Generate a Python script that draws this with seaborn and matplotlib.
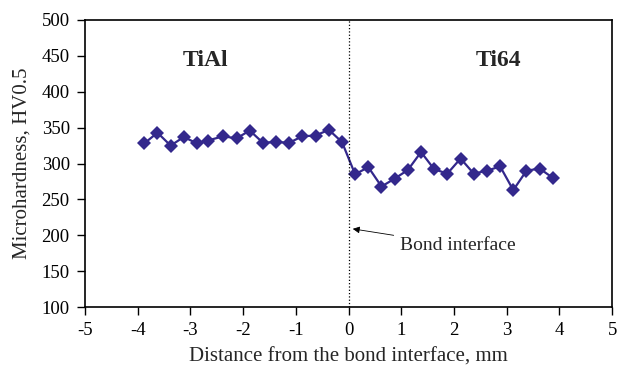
import matplotlib
matplotlib.use("Agg")
import matplotlib.pyplot as plt
import seaborn as sns
import pandas as pd

# Measured microhardness profile across the TiAl / Ti64 bond
distance_mm = [-3.875, -3.625, -3.375, -3.125, -2.875, -2.675, -2.375, -2.125,
               -1.875, -1.625, -1.375, -1.125, -0.875, -0.625, -0.375, -0.125,
               0.125, 0.375, 0.625, 0.875, 1.125, 1.375, 1.625, 1.875,
               2.125, 2.375, 2.625, 2.875, 3.125, 3.375, 3.625, 3.875]
hardness_hv = [328, 343, 325, 337, 328, 332, 338, 335,
               346, 329, 330, 329, 338, 339, 347, 330,
               285, 295, 268, 279, 291, 316, 292, 286,
               307, 286, 290, 296, 263, 290, 293, 280]

x_ticks = [-5, -4, -3, -2, -1, 0, 1, 2, 3, 4, 5]
y_ticks = [100, 150, 200, 250, 300, 350, 400, 450, 500]

df = pd.DataFrame({"distance": distance_mm, "hardness": hardness_hv})

sns.set_style("ticks")
plt.rcParams['font.family'] = ['Liberation Serif', 'DejaVu Serif']

fig = plt.figure(figsize=(6.18, 3.70), dpi=100)
ax = fig.add_axes([0.1375, 0.170, 0.853, 0.776])

sns.lineplot(data=df, x="distance", y="hardness", ax=ax, color='#33288c',
             marker='D', markersize=7, markeredgewidth=0, linewidth=1.6)

ax.axvline(0, color='black', linestyle=':', linewidth=0.9)

ax.set_xlim(-5, 5)
ax.set_ylim(100, 500)
ax.set_xticks(x_ticks)
ax.set_yticks(y_ticks)
ax.set_xticklabels([str(t) for t in x_ticks])
ax.tick_params(axis='both', direction='out', length=6, width=1,
               labelsize=13.5, color='black', labelcolor='black', pad=5)
for side in ax.spines.values():
    side.set_color('black')
    side.set_linewidth(1.2)

ax.set_xlabel('Distance from the bond interface, mm', fontsize=15, labelpad=6)
ax.set_ylabel('Microhardness, HV0.5', fontsize=15, labelpad=7)

ax.text(-2.71, 444, 'TiAl', fontsize=17, fontweight='bold', ha='center', va='center')
ax.text(2.85, 444, 'Ti64', fontsize=17, fontweight='bold', ha='center', va='center')

ax.annotate('Bond interface', xy=(0.08, 209), xytext=(0.97, 186),
            fontsize=14, ha='left', va='center',
            arrowprops=dict(arrowstyle='-|>', color='black', lw=0.6,
                            shrinkA=2, shrinkB=0, mutation_scale=10))

fig.savefig('out.png', dpi=100)
plt.close(fig)
